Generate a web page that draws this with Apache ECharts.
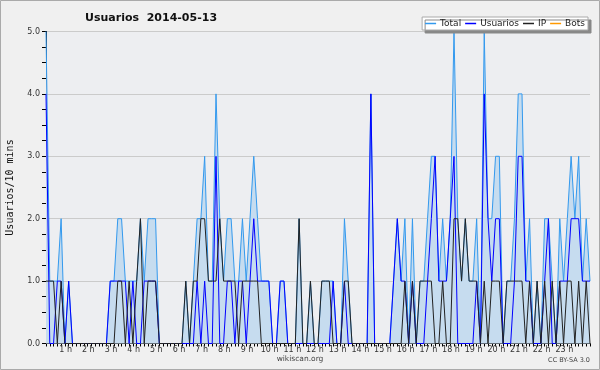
<!DOCTYPE html>
<html><head><meta charset="utf-8">
<script src="https://cdn.jsdelivr.net/npm/echarts@6/dist/echarts.min.js"></script>
<style>html,body{margin:0;padding:0;background:#f0f0f0}#c{width:600px;height:370px}</style>
</head><body><div id="c"></div>
<script>
// 10-minute slots 0..144 (00:00 .. 24:00)
const usuarios = [4,0,0,1,1,0,1,0,0,0, 0,0,0,0,0,0,0,1,1,1, 1,1,0,1,0,0,1,1,1,1, 0,0,0,0,0,0,0,0,0,0,
  1,0,1,0,0,3,0,0,1,1, 0,1,1,0,1,2,1,1,1,1, 0,0,1,1,0,0,0,0,0,0, 0,0,0,0,0,0,1,0,0,1,
  0,0,0,0,0,0,4,0,0,0, 0,0,1,2,1,1,0,1,0,0, 0,1,2,3,1,1,1,2,3,0, 0,0,0,0,1,0,4,2,1,2,
  2,0,0,0,1,3,3,1,1,0, 0,0,1,2,0,0,1,1,1,2, 2,2,1,1,1];
const ip = [1,1,1,0,1,0,0,0,0,0, 0,0,0,0,0,0,0,0,0,1, 1,0,1,0,1,2,0,1,1,1, 0,0,0,0,0,0,0,1,0,1,
  1,2,2,1,1,1,2,1,1,1, 1,0,1,1,1,1,1,0,0,0, 0,0,0,0,0,0,0,2,0,0, 1,0,0,1,1,1,0,0,0,1,
  1,0,0,0,0,0,0,0,0,0, 0,0,0,0,0,1,0,1,0,1, 1,1,1,0,0,1,0,0,2,2, 1,2,1,1,1,0,1,0,1,1,
  1,0,1,1,1,1,1,0,1,0, 1,0,1,0,1,0,1,0,1,1, 0,1,0,1,0];
const total = [5,1,1,1,2,0,1,0,0,0, 0,0,0,0,0,0,0,1,1,2, 2,1,1,1,1,2,1,2,2,2, 0,0,0,0,0,0,0,1,0,1,
  2,2,3,1,1,4,2,1,2,2, 1,1,2,1,2,3,2,1,1,1, 0,0,1,1,0,0,0,2,0,0, 1,0,0,1,1,1,1,0,0,2,
  1,0,0,0,0,0,4,0,0,0, 0,0,1,2,1,2,0,2,0,1, 1,2,3,3,1,2,1,2,5,2, 1,2,1,1,2,0,5,2,2,3,
  3,0,1,1,2,4,4,1,2,0, 1,0,2,2,1,0,2,1,2,3, 2,3,1,2,1];
const bots = [];
const hourLabels = ['1 h','2 h','3 h','4 h','5 h','6 h','7 h','8 h','9 h','10 h','11 h','12 h',
  '13 h','14 h','15 h','16 h','17 h','18 h','19 h','20 h','21 h','22 h','23 h'];
const yTicks = [0,1,2,3,4,5];

const pts = a => a.map((v,i)=>[i,v]);
const chart = echarts.init(document.getElementById('c'), null, {renderer:'canvas'});
chart.setOption({
  backgroundColor:'#f0f0f0',
  animation:false,
  title:{text:'Usuarios  2014-05-13', left:80, top:8,
    textStyle:{fontFamily:'DejaVu Sans', fontSize:11, fontWeight:'bold', color:'#111'}},
  legend:{right:12, top:17, orient:'horizontal', icon:'rect', itemWidth:11, itemHeight:1.5, itemGap:4,
    backgroundColor:'#fff', borderColor:'#aaa', borderWidth:1, padding:[2,3,2,3],
    shadowColor:'#888', shadowOffsetX:3, shadowOffsetY:3, shadowBlur:0,
    textStyle:{fontFamily:'DejaVu Sans', fontSize:9, color:'#222', padding:[0,0,0,-1]},
    data:['Total','Usuarios','IP','Bots']},
  grid:{left:46, right:10, top:31.5, bottom:26.5, show:true, backgroundColor:'#edeef1', borderWidth:0,
    containLabel:false, outerBoundsMode:'none'},
  xAxis:{type:'value', min:0, max:144, interval:1,
    axisLine:{lineStyle:{color:'#000', width:1}},
    axisTick:{length:3, lineStyle:{color:'#000'}},
    splitLine:{show:false},
    axisLabel:{fontFamily:'DejaVu Sans', fontSize:8, color:'#333', margin:2, padding:[0,6,0,0],
      formatter:v=>(v%6===0 && v>0 && v<144)? hourLabels[v/6-1] : ''}},
  yAxis:{type:'value', min:0, max:5, interval:1,
    name:'Usuarios/10 mins', nameLocation:'middle', nameGap:31, nameRotate:90,
    nameTextStyle:{fontFamily:'DejaVu Sans Mono', fontSize:10, color:'#111'},
    axisLine:{show:true, lineStyle:{color:'#000'}},
    axisTick:{show:true, length:4, lineStyle:{color:'#000'}},
    minorTick:{show:true, splitNumber:4, length:4, lineStyle:{color:'#000'}},
    splitLine:{lineStyle:{color:'#cbcbcb'}},
    axisLabel:{fontFamily:'DejaVu Sans', fontSize:8, color:'#333', margin:6,
      formatter:v=>yTicks.includes(v)? v.toFixed(1):''}},
  series:[
    {name:'Total', type:'line', data:pts(total), symbol:'none', color:'#3399ee',
      lineStyle:{width:1, color:'#3399ee'}, areaStyle:{color:'#c6dcef', opacity:1}},
    {name:'Usuarios', type:'line', data:pts(usuarios), symbol:'none', color:'#0000ff',
      lineStyle:{width:1, color:'#0000ff'}},
    {name:'IP', type:'line', data:pts(ip), symbol:'none', color:'#222',
      lineStyle:{width:1, color:'#222'}},
    {name:'Bots', type:'line', data:pts(bots), symbol:'none', color:'#ff9900',
      lineStyle:{width:1, color:'#ff9900'}}
  ],
  graphic:[
    {type:'rect', shape:{x:0.5,y:0.5,width:599,height:369}, style:{fill:'none', stroke:'#aaa', lineWidth:1}, silent:true},
    {type:'text', left:'center', top:355, style:{text:'wikiscan.org', font:'7.5px "DejaVu Sans"', fill:'#444'}},
    {type:'text', right:10, top:357, style:{text:'CC BY-SA 3.0', font:'6.5px "DejaVu Sans"', fill:'#444'}}
  ]
});
</script></body></html>
